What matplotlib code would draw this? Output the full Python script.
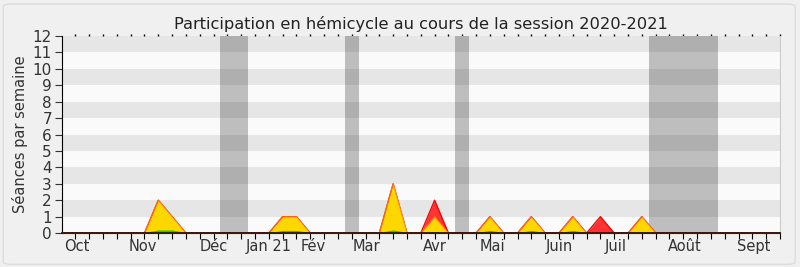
import matplotlib.pyplot as plt
from matplotlib.patches import FancyBboxPatch
from matplotlib.transforms import blended_transform_factory

# weeks of the session (0 = start of october 2020)
weeks = list(range(53))

# seances per week
presences = [0, 0, 0, 0, 0, 0, 0, 2, 1, 0, 0, 0, 0, 0, 0, 0, 1, 1, 0, 0,
             0, 0, 0, 0, 3, 0, 0, 2, 0, 0, 0, 1, 0, 0, 1, 0, 0, 1, 0, 1,
             0, 0, 1, 0, 0, 0, 0, 0, 0, 0, 0, 0, 0]
participations = [0, 0, 0, 0, 0, 0, 0, 2, 1, 0, 0, 0, 0, 0, 0, 0, 1, 1, 0, 0,
                  0, 0, 0, 0, 3, 0, 0, 1, 0, 0, 0, 1, 0, 0, 1, 0, 0, 1, 0, 0,
                  0, 0, 1, 0, 0, 0, 0, 0, 0, 0, 0, 0, 0]
questions = [0, 0, 0, 0, 0, 0, 0, 0.15, 0.15, 0, 0, 0, 0, 0, 0, 0, 0.12, 0.12, 0, 0,
             0, 0, 0, 0, 0.15, 0, 0, 0.05, 0, 0, 0, 0.12, 0, 0, 0.12, 0, 0, 0.12, 0, 0,
             0, 0, 0.05, 0, 0, 0, 0, 0, 0, 0, 0, 0, 0]

# parliamentary holidays (week ranges)
vacances = [(11.5, 13.5), (20.5, 21.5), (28.5, 29.5), (42.5, 47.5)]

month_labels = ["Oct", "Nov", "Déc", "Jan 21", "Fév", "Mar", "Avr", "Mai",
                "Juin", "Juil", "Août", "Sept"]
month_weeks = [1.1, 5.9, 11, 15, 18.2, 22.1, 27, 31.2, 36, 40.1, 45.1, 50.1]

fig = plt.figure(figsize=(8, 2.67), dpi=100)
fig.patch.set_facecolor("#f0f0f0")
fig.patches.append(FancyBboxPatch((0.004, 0.01), 0.99, 0.975, boxstyle="round,pad=0,rounding_size=0.01",
                                  transform=fig.transFigure, facecolor="none",
                                  edgecolor="#dcdcdc", linewidth=1))

ax = fig.add_axes([0.077, 0.127, 0.898, 0.738])
ax.set_facecolor("#fafafa")

for a, b in vacances:
    ax.axvspan(a, b, color="#bebebe", zorder=1, linewidth=0)

for i in range(1, 12, 2):
    ax.axhspan(i, i + 1, color="black", alpha=0.08, zorder=2, linewidth=0)

ax.fill_between(weeks, presences, color="#ff3333", zorder=3, linewidth=0)
ax.plot(weeks, presences, color="#ff0000", linewidth=1, zorder=4)
ax.fill_between(weeks, participations, color="#ffd700", zorder=5, linewidth=0)
ax.plot(weeks, participations, color="#ff8c00", linewidth=0.8, alpha=0.8, zorder=6)
ax.fill_between(weeks, questions, color="#00ee00", zorder=7, linewidth=1, edgecolor="#00dd00")
ax.axhline(0, color="#301010", linewidth=1.3, zorder=10, clip_on=False)

ax.set_xlim(0, 52)
ax.set_ylim(0, 12)
ax.set_yticks(range(13))
ax.tick_params(axis="y", labelsize=11, length=5, pad=2, colors="#333333")
ax.set_xticks(range(1, 53))
ax.set_xticklabels([])
ax.tick_params(axis="x", length=4, direction="out")

trans = blended_transform_factory(ax.transData, ax.transAxes)
for w, lab in zip(month_weeks, month_labels):
    ax.text(w, -0.03, lab, transform=trans, ha="center", va="top",
            fontsize=10.5, color="#333333")

# dotted ticks along the top
top = ax.secondary_xaxis("top")
top.set_xticks(range(1, 53))
top.set_xticklabels([])
top.tick_params(length=1.5, width=1, direction="out")
top.spines["top"].set_visible(False)

ax.spines["top"].set_visible(False)
ax.spines["right"].set_color("#cccccc")
ax.spines["bottom"].set_color("#401010")

ax.set_ylabel("Séances par semaine", fontsize=10.5, color="#333333", labelpad=3)
ax.set_title("Participation en hémicycle au cours de la session 2020-2021",
             fontsize=11.7, color="#222222", pad=5)

fig.savefig("out.png", dpi=100, facecolor=fig.get_facecolor())
